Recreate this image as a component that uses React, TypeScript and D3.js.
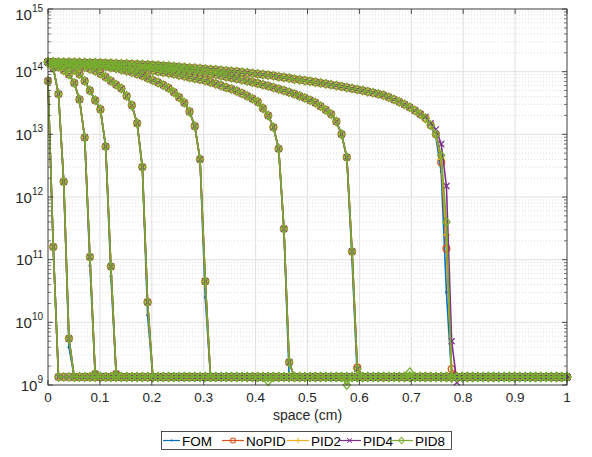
import React from "react";
import * as d3 from "d3";

// ---- grid of the solution (100 nodes on [0,1]) ----
const N_NODES = 100;
const X_MAX = 1;
const X_GRID: number[] = d3.range(N_NODES).map((i) => (i * X_MAX) / (N_NODES - 1));

// floor value of every profile (at the bottom)
const BASELINE = 1.34e9;

// ---- profiles at successive times (values from x = 0 until the front) ----
const PROFILE_A = [7.1e13, 1.6e11];
const PROFILE_B = [1.42e14, 1.15e14, 4.4e13, 1.75e12, 5.5e9];
const PROFILE_C = [1.42e14, 1.32e14, 1.2e14, 1.05e14, 9.0e13, 6.6e13, 3.6e13, 8.9e12, 1.1e11, 1.5e9];
const PROFILE_D = [1.42e14, 1.38e14, 1.32e14, 1.26e14, 1.17e14, 1.07e14, 9.2e13, 7.1e13, 5.0e13, 3.5e13, 2.5e13, 6.4e12, 7.8e10, 1.5e9];
const PROFILE_E = [1.42e14, 1.4e14, 1.38e14, 1.35e14, 1.32e14, 1.28e14, 1.24e14, 1.18e14, 1.11e14, 1.03e14, 9.3e13, 8.2e13, 7.1e13, 6.2e13, 5.4e13, 4.1e13, 2.9e13, 1.5e13, 3.0e12, 2.1e10];
const PROFILE_F = [1.42e14, 1.41e14, 1.4e14, 1.39e14, 1.38e14, 1.36e14, 1.34e14, 1.32e14, 1.3e14, 1.27e14, 1.24e14, 1.21e14, 1.17e14, 1.13e14, 1.08e14, 1.03e14, 9.8e13, 9.2e13, 8.6e13, 7.9e13, 7.3e13, 6.7e13, 6.1e13, 5.5e13, 4.7e13, 3.9e13, 3.2e13, 2.3e13, 1.35e13, 4.0e12, 4.5e10];
const PROFILE_G = [1.42e14, 1.41e14, 1.4e14, 1.39e14, 1.38e14, 1.37e14, 1.35e14, 1.33e14, 1.31e14, 1.29e14, 1.27e14, 1.25e14, 1.23e14, 1.21e14, 1.19e14, 1.17e14, 1.15e14, 1.13e14, 1.1e14, 1.07e14, 1.04e14, 1.01e14, 9.8e13, 9.5e13, 9.2e13, 8.8e13, 8.5e13, 8.1e13, 7.8e13, 7.5e13, 7.2e13, 6.8e13, 6.4e13, 6.0e13, 5.6e13, 5.3e13, 4.9e13, 4.5e13, 4.1e13, 3.7e13, 3.3e13, 2.6e13, 2.0e13, 1.3e13, 5.9e12, 3.1e11, 2.3e9];
const PROFILE_H = [1.42e14, 1.415e14, 1.41e14, 1.4e14, 1.395e14, 1.39e14, 1.38e14, 1.37e14, 1.365e14, 1.36e14, 1.35e14, 1.34e14, 1.33e14, 1.32e14, 1.31e14, 1.3e14, 1.29e14, 1.28e14, 1.27e14, 1.25e14, 1.23e14, 1.21e14, 1.19e14, 1.16e14, 1.14e14, 1.11e14, 1.08e14, 1.05e14, 1.02e14, 9.9e13, 9.6e13, 9.3e13, 9.0e13, 8.6e13, 8.3e13, 8.0e13, 7.7e13, 7.4e13, 7.1e13, 6.8e13, 6.5e13, 6.2e13, 5.9e13, 5.6e13, 5.3e13, 5.0e13, 4.7e13, 4.4e13, 4.1e13, 3.8e13, 3.5e13, 3.2e13, 2.8e13, 2.45e13, 2.1e13, 1.6e13, 1.0e13, 4.3e12, 1.35e11, 1.8e9];
const PROFILE_I = [1.42e14, 1.42e14, 1.415e14, 1.41e14, 1.41e14, 1.405e14, 1.4e14, 1.395e14, 1.39e14, 1.385e14, 1.38e14, 1.37e14, 1.36e14, 1.35e14, 1.34e14, 1.33e14, 1.32e14, 1.31e14, 1.3e14, 1.29e14, 1.27e14, 1.26e14, 1.24e14, 1.23e14, 1.21e14, 1.19e14, 1.17e14, 1.15e14, 1.14e14, 1.12e14, 1.1e14, 1.08e14, 1.07e14, 1.05e14, 1.03e14, 1.015e14, 1.0e14, 9.8e13, 9.6e13, 9.4e13, 9.2e13, 9.0e13, 8.8e13, 8.6e13, 8.3e13, 8.1e13, 7.9e13, 7.6e13, 7.4e13, 7.2e13, 7.0e13, 6.8e13, 6.6e13, 6.4e13, 6.2e13, 6.0e13, 5.8e13, 5.6e13, 5.4e13, 5.2e13, 5.0e13, 4.8e13, 4.6e13, 4.4e13, 4.2e13, 3.9e13, 3.6e13, 3.3e13, 3.0e13, 2.7e13, 2.4e13, 2.1e13, 1.8e13, 1.4e13, 1.0e13, 4.6e12, 4.0e11, 1.3e9];

const PROFILES = [PROFILE_A, PROFILE_B, PROFILE_C, PROFILE_D, PROFILE_E, PROFILE_F, PROFILE_G, PROFILE_H, PROFILE_I];

// ---- series ----
const SERIES_NAMES = ["FOM", "NoPID", "PID2", "PID4", "PID8"];
const SERIES_COLORS = ["#0072BD", "#D95319", "#EDB120", "#7E2F8E", "#77AC30"];

// per-series departures from the shared profiles: [profile, node, value]
const FOM_POINTS: [number, number, number][] = [
  [1, 4, 4.0e9], [2, 8, 8.0e10], [3, 12, 5.4e10], [4, 19, 1.3e10], [5, 30, 2.5e10],
  [6, 46, 1.34e9], [7, 58, 1.0e11], [7, 59, 1.34e9],
  [8, 74, 9.0e12], [8, 75, 2.5e12], [8, 76, 3.0e10], [8, 77, 1.34e9],
];
const NOPID_POINTS: [number, number, number][] = [
  [7, 59, 1.9e9], [8, 74, 1.0e13], [8, 75, 3.6e12], [8, 76, 1.5e11], [8, 77, 1.8e9],
];
const PID2_POINTS: [number, number, number][] = [
  [8, 75, 4.0e12], [8, 76, 2.5e11], [8, 77, 1.4e9],
];
const PID4_POINTS: [number, number, number][] = [
  [8, 72, 1.9e13], [8, 73, 1.5e13], [8, 74, 1.2e13], [8, 75, 7.0e12], [8, 76, 1.5e12], [8, 77, 5.0e9], [8, 78, 1.1e9],
];
const PID8_POINTS: [number, number, number][] = [
  [5, 42, 1.15e9], [5, 57, 1.0e9], [5, 69, 1.6e9],
];
const SERIES_POINTS = [FOM_POINTS, NOPID_POINTS, PID2_POINTS, PID4_POINTS, PID8_POINTS];

const X_TICKS = [0, 0.1, 0.2, 0.3, 0.4, 0.5, 0.6, 0.7, 0.8, 0.9, 1];
const X_TICK_LABELS = ["0", "0.1", "0.2", "0.3", "0.4", "0.5", "0.6", "0.7", "0.8", "0.9", "1"];
const Y_EXPONENTS = [9, 10, 11, 12, 13, 14, 15];
const X_LABEL = "space (cm)";

// ---- layout ----
const W = 592, H = 457;
const PL = 48, PR = 567, PT = 9, PB = 385;

function buildSeries(si: number): number[][] {
  const profiles = PROFILES.map((p) => X_GRID.map((_, i) => (i < p.length ? p[i] : BASELINE)));
  SERIES_POINTS[si].forEach(([p, i, v]) => {
    profiles[p][i] = v;
  });
  return profiles;
}

function Marker({ kind, x, y, color, s = 1 }: { kind: number; x: number; y: number; color: string; s?: number }) {
  const sw = 1.3 * (s < 1 ? 0.8 : 1);
  if (kind === 0) return <circle cx={x} cy={y} r={1.4 * s} fill={color} />;
  if (kind === 1) return <circle cx={x} cy={y} r={3.4 * s} fill="none" stroke={color} strokeWidth={sw} />;
  if (kind === 2) {
    const a = 3.8 * s;
    return <path d={`M${x - a},${y}H${x + a}M${x},${y - a}V${y + a}`} stroke={color} strokeWidth={sw} fill="none" />;
  }
  if (kind === 3) {
    const a = 3.0 * s;
    return <path d={`M${x - a},${y - a}L${x + a},${y + a}M${x - a},${y + a}L${x + a},${y - a}`} stroke={color} strokeWidth={sw} fill="none" />;
  }
  const h = 4.3 * s, w = 3.6 * s;
  return <path d={`M${x},${y - h}L${x + w},${y}L${x},${y + h}L${x - w},${y}Z`} stroke={color} strokeWidth={sw} fill="none" />;
}

export default function App() {
  const x = d3.scaleLinear().domain([0, 1]).range([PL, PR]);
  const y = d3.scaleLog().domain([1e9, 1e15]).range([PB, PT]);
  const line = d3
    .line<number>()
    .x((_, i) => x(X_GRID[i]))
    .y((d) => y(d));

  const minor: number[] = [];
  for (let e = 9; e < 15; e++) for (let m = 2; m <= 9; m++) minor.push(m * Math.pow(10, e));

  const allSeries = SERIES_NAMES.map((_, si) => buildSeries(si));
  const font = "'Liberation Sans', Arial, Helvetica, sans-serif";
  const axisColor = "#262626";

  const legendItems = [
    { lx: 163, tx: 182 },
    { lx: 222, tx: 246 },
    { lx: 287, tx: 311 },
    { lx: 338, tx: 363 },
    { lx: 390, tx: 415 },
  ];

  return (
    <div style={{ position: "absolute", left: 0, top: 0 }}>
      <svg width={W} height={H} style={{ display: "block", background: "#fff" }} fontFamily={font}>
        <defs>
          <clipPath id="plotclip">
            <rect x={PL - 6} y={PT} width={PR - PL + 12} height={PB - PT + 6} />
          </clipPath>
        </defs>
        <rect x={PL} y={PT} width={PR - PL} height={PB - PT} fill="#fff" />
        {/* minor grid */}
        {minor.map((v) => (
          <line key={"mg" + v} x1={PL} x2={PR} y1={y(v)} y2={y(v)} stroke="#c8c8c8" strokeWidth={0.6} strokeDasharray="1,2" />
        ))}
        {/* major grid */}
        {X_TICKS.map((t) => (
          <line key={"gx" + t} x1={x(t)} x2={x(t)} y1={PT} y2={PB} stroke="#e0e0e0" strokeWidth={1} />
        ))}
        {Y_EXPONENTS.map((e) => (
          <line key={"gy" + e} x1={PL} x2={PR} y1={y(Math.pow(10, e))} y2={y(Math.pow(10, e))} stroke="#e0e0e0" strokeWidth={1} />
        ))}
        {/* data */}
        <g clipPath="url(#plotclip)">
          {allSeries.map((profiles, si) => (
            <g key={"s" + si}>
              {profiles.map((vals, pi) => (
                <g key={"p" + pi}>
                  <path d={line(vals) || ""} fill="none" stroke={SERIES_COLORS[si]} strokeWidth={1.6} />
                  {vals.map((v, i) => (
                    <Marker key={i} kind={si} x={x(X_GRID[i])} y={y(v)} color={SERIES_COLORS[si]} />
                  ))}
                </g>
              ))}
            </g>
          ))}
        </g>
        {/* axes box */}
        <rect x={PL} y={PT} width={PR - PL} height={PB - PT} fill="none" stroke={axisColor} strokeWidth={0.8} />
        {/* ticks */}
        {X_TICKS.map((t) => (
          <g key={"xt" + t}>
            <line x1={x(t)} x2={x(t)} y1={PB} y2={PB - 5} stroke={axisColor} strokeWidth={0.8} />
            <line x1={x(t)} x2={x(t)} y1={PT} y2={PT + 5} stroke={axisColor} strokeWidth={0.8} />
          </g>
        ))}
        {Y_EXPONENTS.map((e) => (
          <g key={"yt" + e}>
            <line x1={PL} x2={PL + 5} y1={y(Math.pow(10, e))} y2={y(Math.pow(10, e))} stroke={axisColor} strokeWidth={0.8} />
            <line x1={PR} x2={PR - 5} y1={y(Math.pow(10, e))} y2={y(Math.pow(10, e))} stroke={axisColor} strokeWidth={0.8} />
          </g>
        ))}
        {minor.map((v) => (
          <g key={"ym" + v}>
            <line x1={PL} x2={PL + 3} y1={y(v)} y2={y(v)} stroke={axisColor} strokeWidth={0.6} />
            <line x1={PR} x2={PR - 3} y1={y(v)} y2={y(v)} stroke={axisColor} strokeWidth={0.6} />
          </g>
        ))}
        {/* tick labels */}
        {X_TICKS.map((t, k) => (
          <text key={"xl" + t} x={x(t)} y={402} textAnchor="middle" fontSize={13.5} fill={axisColor}>
            {X_TICK_LABELS[k]}
          </text>
        ))}
        {Y_EXPONENTS.map((e) => {
          const gy = Math.max(y(Math.pow(10, e)), 14);
          return (
            <text key={"yl" + e} x={43} y={gy + 5.5} textAnchor="end" fill={axisColor}>
              <tspan fontSize={15}>10</tspan>
              <tspan fontSize={10} dy={-7.5}>{String(e)}</tspan>
            </text>
          );
        })}
        <text x={x(0.5)} y={420} textAnchor="middle" fontSize={14} fill={axisColor}>
          {X_LABEL}
        </text>
        {/* legend */}
        <rect x={161.5} y={431.5} width={290} height={18} fill="#fff" stroke={axisColor} strokeWidth={0.8} />
        {SERIES_NAMES.map((name, si) => {
          const it = legendItems[si];
          const ly = 440.5;
          const lx2 = it.tx - 2;
          return (
            <g key={"lg" + si}>
              <line x1={it.lx} x2={lx2} y1={ly} y2={ly} stroke={SERIES_COLORS[si]} strokeWidth={1.2} />
              <Marker kind={si} x={(it.lx + lx2) / 2} y={ly} color={SERIES_COLORS[si]} s={0.75} />
              <text x={it.tx} y={445.5} fontSize={13.5} fill="#000">
                {name}
              </text>
            </g>
          );
        })}
      </svg>
    </div>
  );
}
